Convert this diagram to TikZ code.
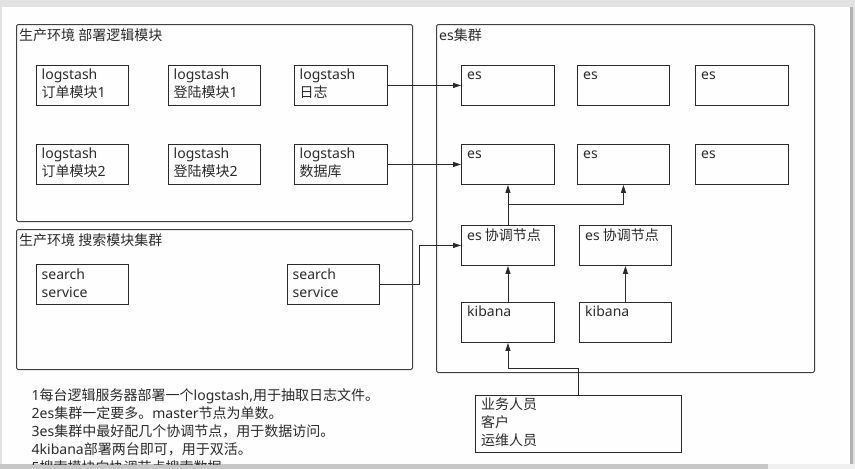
\documentclass[tikz,border=0pt]{standalone}
\usepackage{fontspec}
\setmainfont{Noto Sans CJK SC}
\newfontfamily\lat{Noto Sans}
\usetikzlibrary{arrows.meta}
\definecolor{frame}{HTML}{E2E2E2}
\definecolor{canvas}{HTML}{FDFEFD}
\definecolor{ink}{HTML}{2A2A2A}
\definecolor{outer}{HTML}{404040}
\tikzset{
  box/.style={draw=ink, line width=0.9pt, rectangle, inner sep=0pt, anchor=north west},
  group/.style={draw=outer, line width=1pt, rounded corners=1.5pt, rectangle, inner sep=0pt, anchor=north west},
  txt/.style={inner sep=0pt, anchor=base west, text=ink, font=\fontsize{14}{18}\selectfont},
  arr/.style={draw=ink, line width=0.9pt, -{Triangle[length=8pt,width=5pt]}},
}
\begin{document}
\begin{tikzpicture}[x=1pt,y=-1pt]
\useasboundingbox (0,0) rectangle (855,469);
% editor frame
\fill[frame] (0,0) rectangle (855,469);
\fill[canvas] (2,7) rectangle (850,464);
\fill[black!30] (850,7) rectangle (853,464);
\fill[black!22] (0,464) rectangle (768,469);
\fill[black!6] (768,464) rectangle (855,469);
\begin{scope}
\clip (2,7) rectangle (850,464);
% groups
\node[group, minimum width=396, minimum height=197] (ga) at (16,24) {};
\node[txt] (gat) at (19,40.5) {生产环境 部署逻辑模块};
\node[group, minimum width=396, minimum height=140] (gb) at (16,229) {};
\node[txt] (gbt) at (19,245) {生产环境 搜索模块集群};
\node[group, minimum width=378, minimum height=348] (gc) at (436,24) {};
\node[txt] (gct) at (439,40.5) {{\lat es}集群};
% logstash boxes
\node[box, minimum width=92, minimum height=40] (l1) at (36,65) {};
\node[box, minimum width=92, minimum height=40] (l2) at (168,65) {};
\node[box, minimum width=93, minimum height=40] (l3) at (294,65) {};
\node[box, minimum width=92, minimum height=40] (l4) at (36,144) {};
\node[box, minimum width=92, minimum height=40] (l5) at (168,144) {};
\node[box, minimum width=93, minimum height=40] (l6) at (294,144) {};
\node[txt] (l1a) at (41.5,79.5) {\lat logstash};
\node[txt] (l1b) at (41.5,97.5) {订单模块{\lat 1}};
\node[txt] (l2a) at (173.5,79.5) {\lat logstash};
\node[txt] (l2b) at (173.5,97.5) {登陆模块{\lat 1}};
\node[txt] (l3a) at (299.5,79.5) {\lat logstash};
\node[txt] (l3b) at (299.5,97.5) {日志};
\node[txt] (l4a) at (41.5,158.5) {\lat logstash};
\node[txt] (l4b) at (41.5,176.5) {订单模块{\lat 2}};
\node[txt] (l5a) at (173.5,158.5) {\lat logstash};
\node[txt] (l5b) at (173.5,176.5) {登陆模块{\lat 2}};
\node[txt] (l6a) at (299.5,158.5) {\lat logstash};
\node[txt] (l6b) at (299.5,176.5) {数据库};
% search service boxes
\node[box, minimum width=92, minimum height=40] (s1) at (36,264) {};
\node[box, minimum width=92, minimum height=40] (s2) at (287,264) {};
\node[txt] (s1a) at (41.5,279) {\lat search};
\node[txt] (s1b) at (41.5,297) {\lat service};
\node[txt] (s2a) at (292.5,279) {\lat search};
\node[txt] (s2b) at (292.5,297) {\lat service};
% es boxes
\node[box, minimum width=93, minimum height=40] (e11) at (461,65) {};
\node[box, minimum width=92, minimum height=40] (e12) at (577,65) {};
\node[box, minimum width=93, minimum height=40] (e13) at (695,65) {};
\node[box, minimum width=93, minimum height=40] (e21) at (461,144) {};
\node[box, minimum width=92, minimum height=40] (e22) at (577,144) {};
\node[box, minimum width=93, minimum height=40] (e23) at (695,144) {};
\node[txt] (e11t) at (467,79.5) {\lat es};
\node[txt] (e12t) at (583,79.5) {\lat es};
\node[txt] (e13t) at (701,79.5) {\lat es};
\node[txt] (e21t) at (467,158.5) {\lat es};
\node[txt] (e22t) at (583,158.5) {\lat es};
\node[txt] (e23t) at (701,158.5) {\lat es};
% coordinating nodes
\node[box, minimum width=93, minimum height=40] (c1) at (461,225) {};
\node[box, minimum width=92, minimum height=40] (c2) at (579,225) {};
\node[txt] (c1t) at (467,240) {{\lat es} 协调节点};
\node[txt] (c2t) at (585,240) {{\lat es} 协调节点};
% kibana
\node[box, minimum width=93, minimum height=40] (k1) at (461,302) {};
\node[box, minimum width=92, minimum height=40] (k2) at (579,302) {};
\node[txt] (k1t) at (467,316.5) {\lat kibana};
\node[txt] (k2t) at (585,316.5) {\lat kibana};
% users
\node[box, minimum width=206, minimum height=57] (u) at (475,395) {};
\node[txt] (u1) at (481,409.5) {业务人员};
\node[txt] (u2) at (481,427.5) {客户};
\node[txt] (u3) at (481,445.5) {运维人员};
% notes
\node[txt] (n1) at (31.5,400) {{\lat 1}每台逻辑服务器部署一个{\lat logstash,}用于抽取日志文件。};
\node[txt] (n2) at (31.5,418) {{\lat 2es}集群一定要多。{\lat master}节点为单数。};
\node[txt] (n3) at (31.5,436) {{\lat 3es}集群中最好配几个协调节点，用于数据访问。};
\node[txt] (n4) at (31.5,454) {{\lat 4kibana}部署两台即可，用于双活。};
\node[txt] (n5) at (31.5,472) {{\lat 5}搜索模块向协调节点搜索数据};
% connectors
\draw[arr] (l3.east) -- (e11.west);
\draw[arr] (l6.east) -- (e21.west);
\draw[arr] (s2.east) -- ++(40,0) |- (c1.west);
\draw[arr] (c1.north) -- (e21.south);
\draw[arr] (c1.north) -- ++(0,-21) -| (e22.south);
\draw[arr] (k1.north) -- (c1.south);
\draw[arr] (k2.north) -- (c2.south);
\draw[arr] (u.north) -- ++(0,-27) -| (k1.south);
\end{scope}
\end{tikzpicture}
\end{document}
